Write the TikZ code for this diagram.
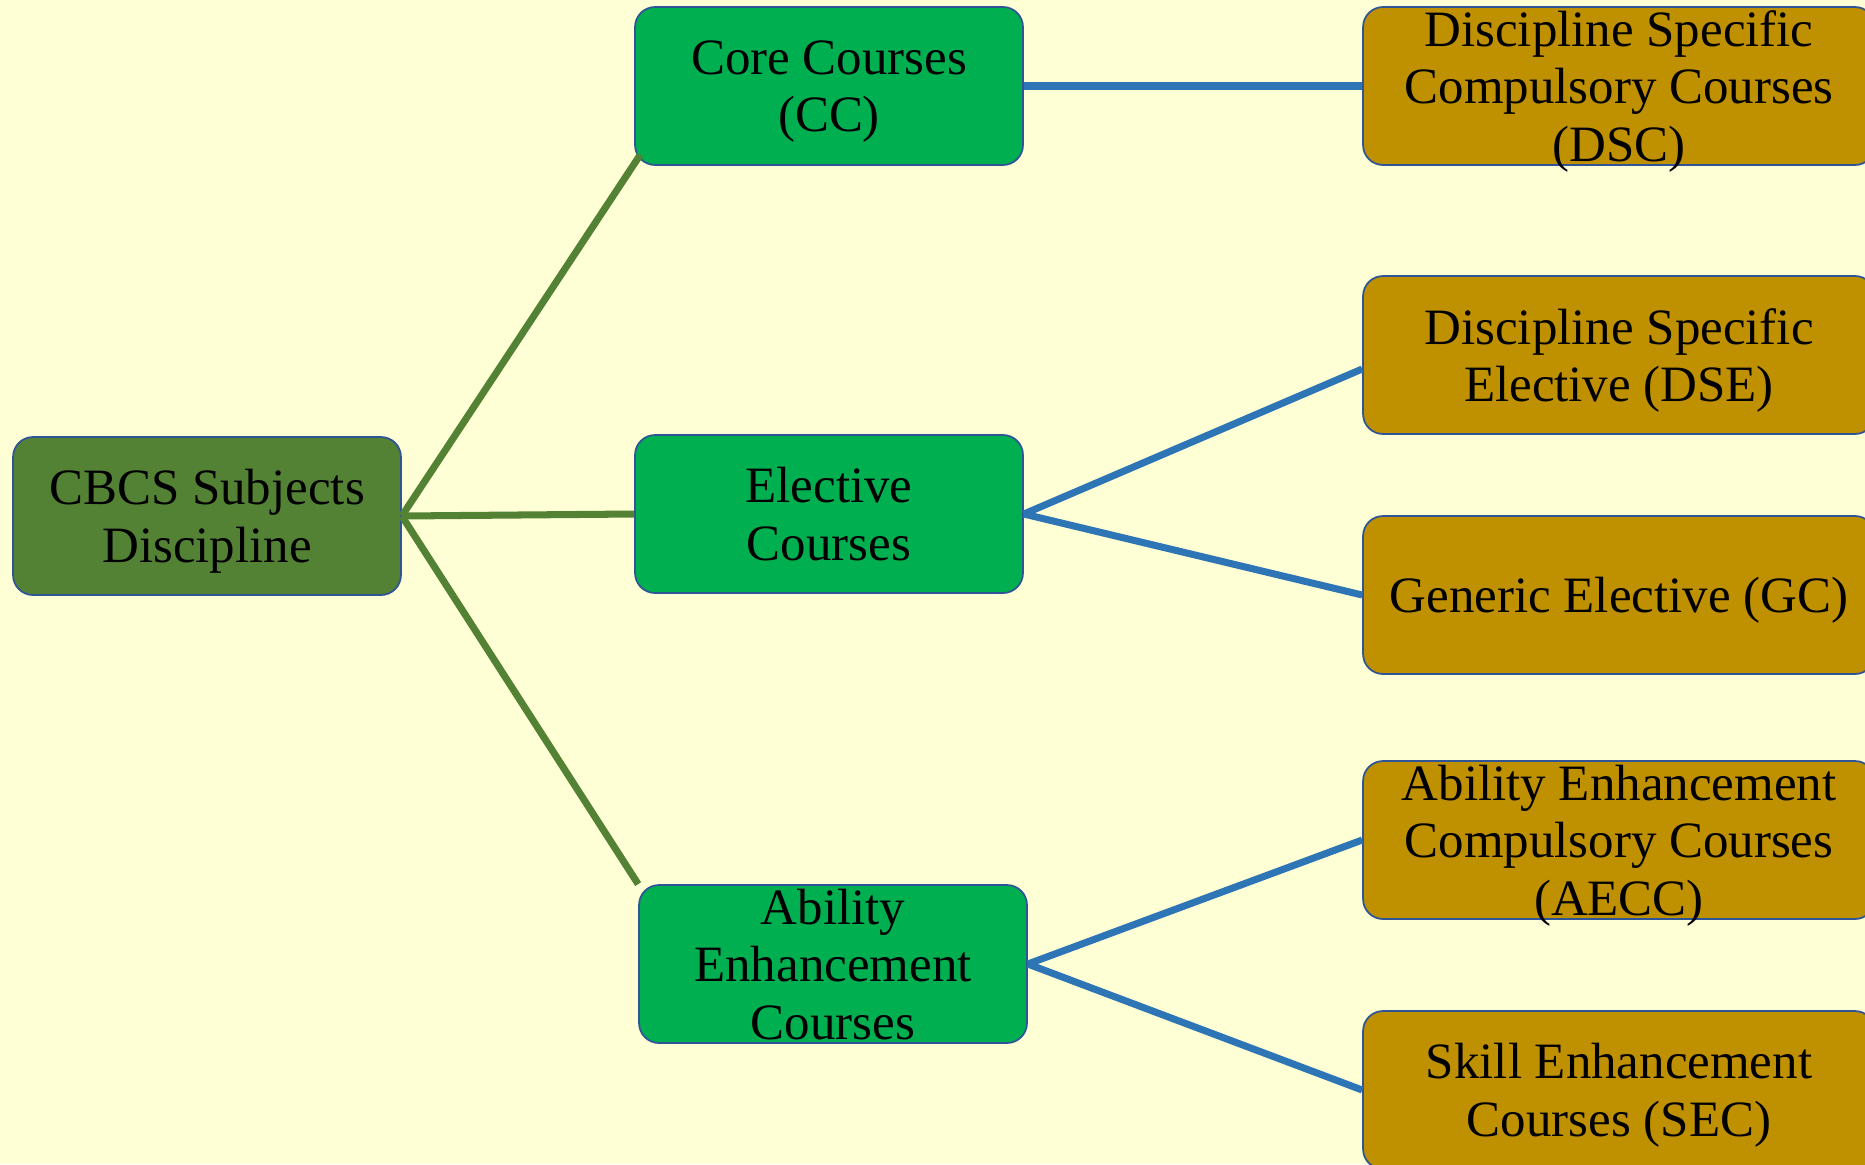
\documentclass[tikz,border=0pt]{standalone}
\usepackage{fontspec}
\setmainfont{Liberation Serif}
\definecolor{fondo}{HTML}{FFFFD6}
\definecolor{raiz}{HTML}{548235}
\definecolor{medio}{HTML}{00B050}
\definecolor{hoja}{HTML}{BF9000}
\definecolor{borde}{HTML}{2F5597}
\definecolor{azul}{HTML}{2E75B6}
\tikzset{
  caja/.style={draw=borde, line width=1pt, rounded corners=0.4cm, align=center,
    minimum width=7.76cm, minimum height=3.16cm, inner ysep=-0.2cm,
    text depth=-0.05cm, font=\fontsize{29}{32.7}\selectfont},
  cajahoja/.style={caja, fill=hoja, minimum width=10.24cm},
  rama/.style={raiz, line width=4pt},
  ramaazul/.style={azul, line width=4pt}
}
\begin{document}
\begin{tikzpicture}[x=0.02cm,y=-0.02cm]
  % Fondo
  \fill[fondo] (0,0) rectangle (1865,1164);
  \useasboundingbox (0,0) rectangle (1865,1164);

  % Cajas
  \node[caja, fill=raiz] (cbcs) at (207,516) {CBCS Subjects\\Discipline};
  \node[caja, fill=medio] (cc) at (829,86) {Core Courses\\(CC)};
  \node[caja, fill=medio] (ec) at (829,514) {Elective\\Courses};
  \node[caja, fill=medio] (aec) at (833,964) {Ability\\Enhancement\\Courses};

  \node[cajahoja] (dsc) at (1619,86) {Discipline Specific\\Compulsory Courses\\(DSC)};
  \node[cajahoja] (dse) at (1619,355) {Discipline Specific\\Elective (DSE)};
  \node[cajahoja] (gc) at (1619,595) {Generic Elective (GC)};
  \node[cajahoja] (aecc) at (1619,840) {Ability Enhancement\\Compulsory Courses\\(AECC)};
  \node[cajahoja] (sec) at (1619,1090) {Skill Enhancement\\Courses (SEC)};

  % Ramas
  \draw[rama] (cbcs.east) -- ([shift={(6,-11)}]cc.south west);
  \draw[rama] (cbcs.east) -- (ec.west);
  \draw[rama] (cbcs.east) -- (aec.north west);

  \draw[ramaazul] (cc.east) -- (dsc.west);
  \draw[ramaazul] (ec.east) -- ([shift={(0,14)}]dse.west);
  \draw[ramaazul] (ec.east) -- (gc.west);
  \draw[ramaazul] (aec.east) -- (aecc.west);
  \draw[ramaazul] (aec.east) -- (sec.west);
\end{tikzpicture}
\end{document}
